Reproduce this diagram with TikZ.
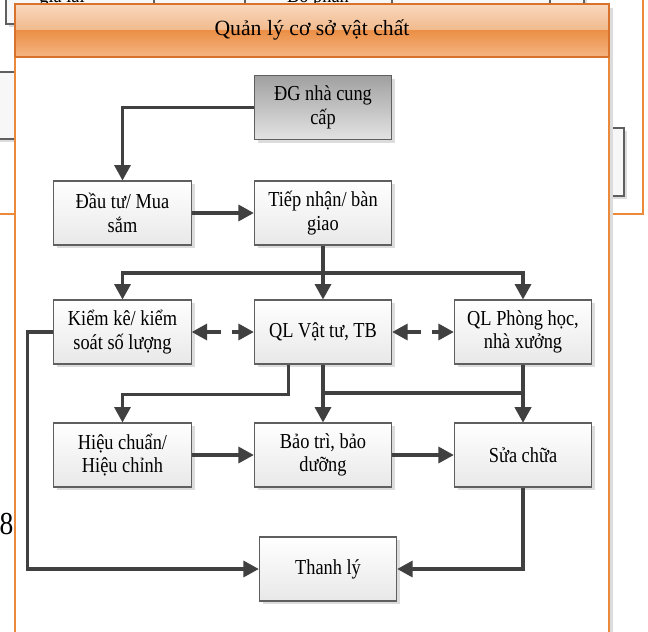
\documentclass[tikz,border=0pt]{standalone}
\usepackage{fontspec}
\setmainfont{Liberation Serif}
\newfontfamily\nodefont{Liberation Serif}[FakeStretch=0.86]
\usetikzlibrary{arrows.meta,shadows}
\definecolor{edge}{HTML}{404040}
\definecolor{boxline}{HTML}{5F5F5F}
\definecolor{panelline}{HTML}{EC8A3C}
\definecolor{bandline}{HTML}{D9732B}
\definecolor{bandtop}{HTML}{F9D8BE}
\definecolor{bandmid}{HTML}{F1B98B}
\definecolor{bandlow}{HTML}{EC9047}
\definecolor{bandbot}{HTML}{F5B583}
\definecolor{shade}{HTML}{DCDCDC}

\begin{document}
\begin{tikzpicture}[
    x=0.75pt, y=-0.75pt,
    >={Triangle[length=11.5pt,width=12pt]},
    line join=miter,
    every node/.style={font=\nodefont\fontsize{16}{17.5}\selectfont},
    stepbox/.style={draw=boxline, line width=0.8pt, top color=white, bottom color=black!9,
        minimum width=103pt, minimum height=48pt, align=center, inner sep=2pt,
        drop shadow={shadow xshift=2.5pt, shadow yshift=-2.5pt, fill=shade, opacity=1}},
    startbox/.style={stepbox, top color=black!37, bottom color=black!11},
    backbox/.style={draw=boxline, line width=0.8pt, fill=black!3,
        drop shadow={shadow xshift=2.5pt, shadow yshift=-2.5pt, fill=shade, opacity=1}},
    flow/.style={edge, line width=2.3pt, ->},
    biflow/.style={edge, line width=2.3pt, <->, dash pattern=on 11pt off 8pt},
]
\useasboundingbox (0,0) rectangle (648,631);
\clip (0,0) rectangle (648,631);

% --- what lies behind the panel ---
\draw[panelline, line width=1pt, fill=white] (-20,-20) rectangle (643,214);
\draw[backbox] (6,-20) rectangle (584,24);
\foreach \x in {154,245,392,550}
    \draw[boxline, line width=0.8pt] (\x,-20) -- (\x,24);
\node[anchor=base] (cutleft) at (62,3) {giá lại};
\node[anchor=base] (cutmid) at (318,3) {Bộ phận};
\draw[backbox] (-20,72) rectangle (40,139);
\draw[backbox] (580,128) rectangle (624,196);
\node[font=\nodefont\fontsize{24}{24}\selectfont] (pagenum) at (6.5,524) {8};

% --- panel with its title band ---
\draw[panelline, line width=1pt, fill=white,
    drop shadow={shadow xshift=3pt, shadow yshift=-3pt, fill=shade, opacity=1}]
    (15,4) rectangle (609,660);
\fill[top color=bandtop, bottom color=bandmid] (15,4) rectangle (609,31);
\fill[top color=bandlow, bottom color=bandbot] (15,31) rectangle (609,57);
\draw[bandline, line width=1pt] (15,4) rectangle (609,57);
\node[font=\fontsize{16.3}{19}\selectfont] (title) at (312,30) {Quản lý cơ sở vật chất};

% --- steps ---
\node[startbox] (dg) at (323,107.5) {ĐG nhà cung\\cấp};
\node[stepbox] (mua) at (122.5,213) {Đầu tư/ Mua\\sắm};
\node[stepbox] (tiep) at (323,213) {Tiếp nhận/ bàn\\giao};
\node[stepbox] (kiem) at (122.5,332) {Kiểm kê/ kiểm\\soát số lượng};
\node[stepbox] (qlvt) at (323,332) {QL Vật tư, TB};
\node[stepbox] (qlph) at (523,332) {QL Phòng học,\\nhà xưởng};
\node[stepbox] (hieu) at (122.5,455) {Hiệu chuẩn/\\Hiệu chỉnh};
\node[stepbox] (baotri) at (323,455) {Bảo trì, bảo\\dưỡng};
\node[stepbox] (sua) at (523,455) {Sửa chữa};
\node[stepbox] (thanhly) at (328,569) {Thanh lý};

% --- flows ---
\draw[flow] (dg.west) -| (mua.north);
\draw[flow] (mua) -- (tiep);
\draw[flow] (tiep) -- (qlvt);
\coordinate (fork1) at (323,273);
\draw[flow] (fork1) -| (kiem.north);
\draw[flow] (fork1) -| (qlph.north);
\draw[biflow] (kiem) -- (qlvt);
\draw[biflow] (qlvt) -- (qlph);

\draw[flow] ([xshift=-26pt]qlvt.south) -- ++(0,30) -| (hieu.north);
\draw[flow] (qlvt) -- (baotri);
\coordinate (fork2) at (323,393);
\draw[flow] (fork2) -| (sua.north);
\draw[flow] (qlph) -- (sua);
\draw[flow] (hieu) -- (baotri);
\draw[flow] (baotri) -- (sua);

\draw[flow] (kiem.west) -- ++(-26,0) |- (thanhly.west);
\draw[flow] (sua.south) |- (thanhly.east);

\end{tikzpicture}
\end{document}
